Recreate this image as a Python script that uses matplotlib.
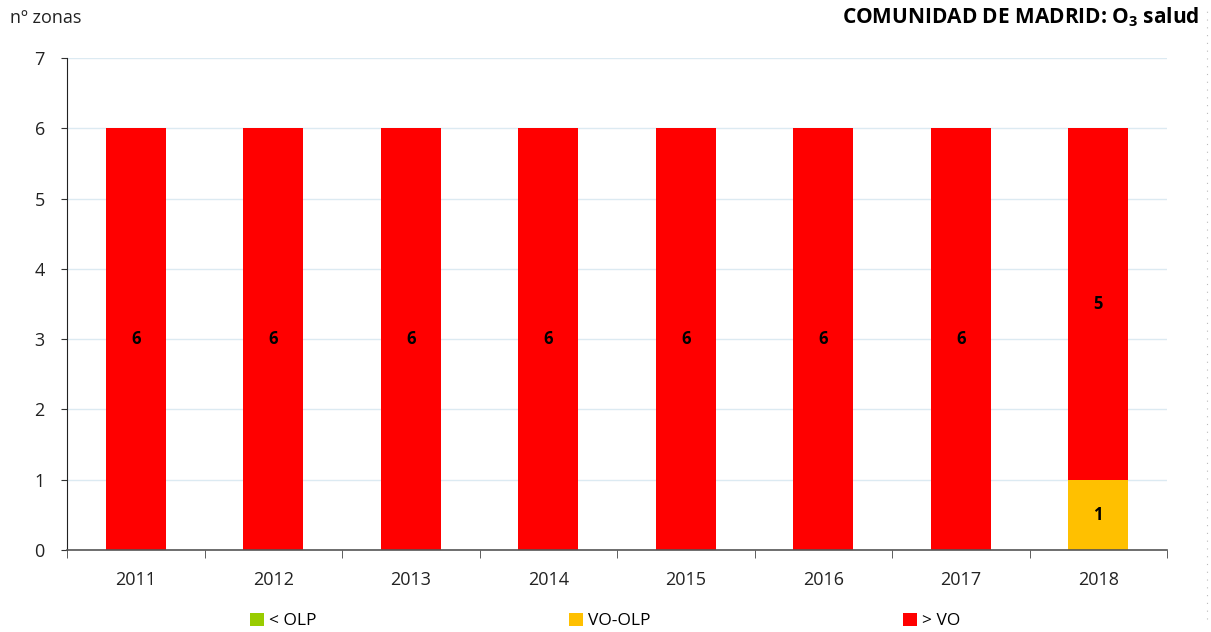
import numpy as np
import matplotlib.pyplot as plt
from matplotlib.patches import Patch
from matplotlib.lines import Line2D

plt.rcParams['font.family'] = ['Open Sans', 'DejaVu Sans']
plt.rcParams['mathtext.fontset'] = 'custom'
plt.rcParams['mathtext.rm'] = 'Open Sans'
plt.rcParams['mathtext.bf'] = 'Open Sans:bold'

years = ['2011', '2012', '2013', '2014', '2015', '2016', '2017', '2018']
below_olp = [0, 0, 0, 0, 0, 0, 0, 0]
vo_olp = [0, 0, 0, 0, 0, 0, 0, 1]
above_vo = [6, 6, 6, 6, 6, 6, 6, 5]

series_names = ['< OLP', 'VO-OLP', '> VO']
colors = ['#99CC00', '#FFC000', '#FF0000']

fig = plt.figure(figsize=(12.11, 6.32), dpi=100)
ax = fig.add_axes([67 / 1211, 82 / 632, 1100 / 1211, 492 / 632])

x = np.arange(len(years))
w = 0.436
bottom = np.zeros(len(years))
for vals, col in zip([below_olp, vo_olp, above_vo], colors):
    vals = np.array(vals)
    ax.bar(x, vals, w, bottom=bottom, color=col, zorder=2)
    for xi, v, b in zip(x, vals, bottom):
        if v > 0:
            ax.text(xi, b + v / 2, str(v), ha='center', va='center',
                    fontsize=12, fontweight='bold', color='black', zorder=3)
    bottom += vals

ax.set_xlim(-0.5, len(years) - 0.5)
ax.set_ylim(0, 7)
ax.set_yticks(range(8))
ax.tick_params(axis='y', labelsize=13, length=4, pad=12, colors='#333333', labelcolor='#222222')
ax.grid(axis='y', color='#DCEAF2', linewidth=1, zorder=0)

ax.set_xticks(x)
ax.set_xticklabels(years, fontsize=13, color='#222222')
ax.set_xticks(np.arange(-0.5, len(years)), minor=True)
ax.tick_params(axis='x', which='major', length=0, pad=15)
ax.tick_params(axis='x', which='minor', length=6, color='#444444')

for s in ['top', 'right']:
    ax.spines[s].set_visible(False)
ax.spines['left'].set_color('#222222')
ax.spines['bottom'].set_color('#555555')
ax.spines['bottom'].set_linewidth(1.2)

fig.text(10 / 1211, 1 - 18 / 632, 'nº zonas', fontsize=13, va='center', ha='left', color='#222222')
fig.text(1199 / 1211, 1 - 17 / 632, r'COMUNIDAD DE MADRID: O$_\mathbf{3}$ salud',
         fontsize=15, fontweight='bold', ha='right', va='center')

# faint dashed border on the right
fig.add_artist(Line2D([1207 / 1211, 1207 / 1211], [0.02, 0.99], transform=fig.transFigure,
                      color='#BBBBBB', linewidth=0.8, linestyle=(0, (1, 6))))

handles = [Patch(facecolor=c, label=n) for c, n in zip(colors, series_names)]
for h, xpos in zip(handles, [250, 569, 903]):
    fig.legend(handles=[h], loc='center left', bbox_to_anchor=(xpos / 1211, 1 - 621 / 632),
               frameon=False, fontsize=12.5, handlelength=0.8, handleheight=0.8,
               handletextpad=0.3, borderpad=0, borderaxespad=0)

fig.savefig('out.png', dpi=100)
